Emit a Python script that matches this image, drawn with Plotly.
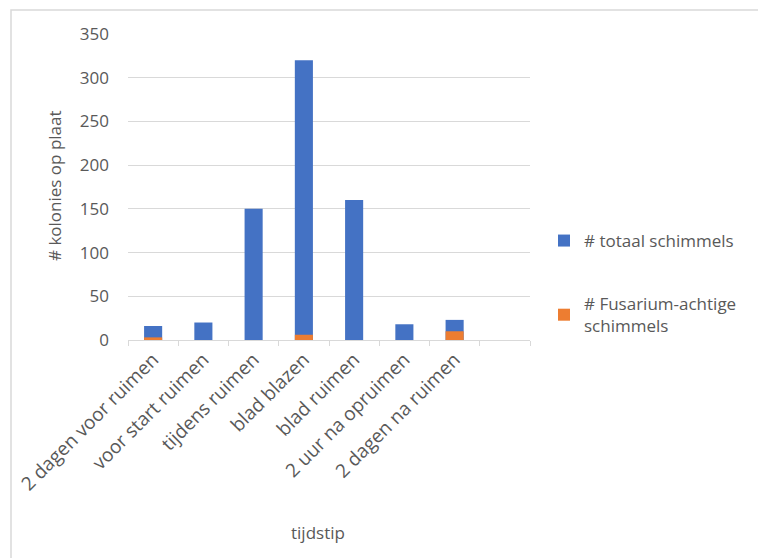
import plotly.graph_objects as go

# Sampling moments (the last slot is an empty category on the axis)
tijdstip = [
    "2 dagen voor ruimen",
    "voor start ruimen",
    "tijdens ruimen",
    "blad blazen",
    "blad ruimen",
    "2 uur na opruimen",
    "2 dagen na ruimen",
    " ",
]
totaal_schimmels = [16, 20, 150, 320, 160, 18, 23, None]
fusarium_schimmels = [3, 0, 0, 6, 0, 0, 10, None]

W, H = 758, 558
L, R, T, B = 128, 228, 34, 218
plot_w = W - L - R
plot_h = H - T - B

def px_x(x):
    return (x - L) / plot_w

def px_y(y):
    return (H - B - y) / plot_h

grey = "#595959"
font_family = "'Open Sans', sans-serif"
fs = 17

fig = go.Figure()
fig.add_trace(go.Bar(
    x=tijdstip, y=totaal_schimmels, name="# totaal schimmels",
    marker=dict(color="#4472C4", line=dict(width=0)), width=0.36,
    legendgroup="a",
))
fig.add_trace(go.Bar(
    x=tijdstip, y=fusarium_schimmels, name="# Fusarium-achtige<br>schimmels",
    marker=dict(color="#ED7D31", line=dict(width=0)), width=0.36,
    legendgroup="b",
))

fig.update_layout(
    width=W, height=H,
    margin=dict(l=L, r=R, t=T, b=B, pad=0),
    paper_bgcolor="white", plot_bgcolor="white",
    barmode="overlay",
    font=dict(family=font_family, size=fs, color=grey),
    showlegend=True,
    legend=dict(
        x=px_x(544), y=px_y(223), xanchor="left", yanchor="top",
        traceorder="grouped", tracegroupgap=38,
        font=dict(size=fs, color=grey),
        itemwidth=30,
    ),
    xaxis=dict(
        type="category",
        range=[-0.5, 7.5],
        tickangle=-45,
        showgrid=False,
        showline=True, linecolor="#d9d9d9", linewidth=1,
        ticks="outside", tickson="boundaries", ticklen=5,
        tickcolor="#d9d9d9",
        tickfont=dict(size=19, color=grey),
    ),
    yaxis=dict(
        range=[0, 350],
        tickvals=[0, 50, 100, 150, 200, 250, 300, 350],
        showgrid=True, gridcolor="#d9d9d9", gridwidth=1,
        zeroline=False, showline=False, ticks="",
        ticklabelstandoff=18,
        tickfont=dict(size=fs, color=grey),
    ),
    annotations=[
        dict(
            text="tijdstip", xref="paper", yref="paper",
            x=px_x(318), y=px_y(532), xanchor="center", yanchor="middle",
            showarrow=False, font=dict(size=fs, color=grey),
        ),
        dict(
            text="# kolonies op plaat", xref="paper", yref="paper",
            x=px_x(54), y=px_y(186), xanchor="center", yanchor="middle",
            textangle=-90, showarrow=False, font=dict(size=fs, color=grey),
        ),
    ],
    shapes=[
        dict(
            type="rect", xref="paper", yref="paper",
            x0=px_x(11), y0=px_y(600), x1=px_x(800), y1=px_y(10),
            line=dict(color="#d9d9d9", width=1.5), fillcolor="rgba(0,0,0,0)",
            layer="below",
        )
    ],
)

fig.write_html("out.html")
